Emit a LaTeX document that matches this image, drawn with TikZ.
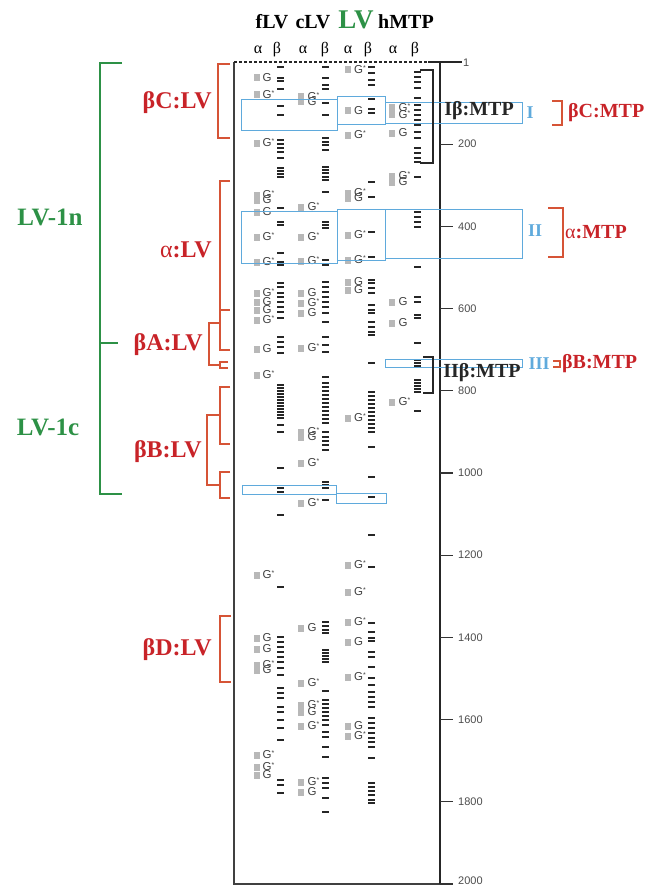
\documentclass[tikz,border=0pt]{standalone}
\usepackage{fontspec}
\setmainfont{Liberation Serif}
\setsansfont{Liberation Sans}
\definecolor{labred}{RGB}{200,35,40}
\definecolor{brkred}{RGB}{214,84,54}
\definecolor{grn}{RGB}{45,145,70}
\definecolor{boxblue}{RGB}{95,170,220}
\newcommand\Gst{\raisebox{3pt}{\fontsize{7}{7}\selectfont *}}
\begin{document}
\begin{tikzpicture}[x=1pt,y=-1pt,
  hdr/.style={font=\bfseries\fontsize{20}{20}\selectfont, inner sep=0pt},
  sub/.style={font=\fontsize{16}{16}\selectfont, inner sep=0pt},
  redlab/.style={font=\bfseries\fontsize{24}{24}\selectfont, text=labred, inner sep=0pt},
  mtplab/.style={font=\bfseries\fontsize{20}{20}\selectfont, text=labred, inner sep=0pt, anchor=west},
  grnlab/.style={font=\bfseries\fontsize{25}{25}\selectfont, text=grn, inner sep=0pt},
  bluelab/.style={font=\bfseries\fontsize{18}{18}\selectfont, text=boxblue, inner sep=0pt},
  blklab/.style={font=\bfseries\fontsize{20}{20}\selectfont, text=black!85, inner sep=0pt},
  ticklab/.style={font=\sffamily\fontsize{11}{11}\selectfont, text=black!70, inner sep=0pt, anchor=west},
  gl/.style={font=\sffamily\fontsize{11.5}{11.5}\selectfont, text=black!75, inner sep=0pt, anchor=west},
  blk/.style={fill=black!85},
  gry/.style={fill=black!28},
  bx/.style={draw=boxblue, line width=1pt},
  rbr/.style={draw=brkred, line width=1.1pt},
  gbr/.style={draw=grn, line width=2.6pt},
  kbr/.style={draw=black!85, line width=1.3pt}]
\useasboundingbox (0,0) rectangle (652,888);

% ---- column headings
\node[hdr] (hf) at (272,22) {fLV};
\node[hdr] (hc) at (313,22) {cLV};
\node[hdr, text=grn, font=\bfseries\fontsize{27}{27}\selectfont] (hl) at (356,20) {LV};
\node[hdr] (hh) at (406,22) {hMTP};
\foreach \x/\t [count=\i] in {258/α,277/β,303/α,325/β,348/α,368/β,393/α,415/β}
  \node[sub] (ab\i) at (\x,50) {\t};

% ---- frame and size axis
\draw[black!75, line width=1.1pt] (234,62) -- (234,884) -- (440,884);
\draw[black!85, line width=1.4pt, dash pattern=on 3pt off 2pt] (234,62) -- (428,62);
\draw[black!85, line width=1.4pt] (428,62) -- (462,62);
\draw[black!85, line width=1.4pt] (440,62) -- (440,884);
\node[ticklab] (t1) at (463,63) {1};
\foreach \v in {200,400,...,1800}{
  \pgfmathsetmacro\yy{62+0.411*\v}
  \draw[black!80, line width=1.1pt] (440,\yy) -- (453,\yy);
  \node[ticklab] (t\v) at (458,\yy) {\v};
}
\draw[black!80, line width=1.1pt] (440,884) -- (453,884);
\node[ticklab] (t2000) at (458,881) {2000};

% ---- fLV lanes
\foreach \y in {67,78,81,89,106,115,140,144,148,152,158,168,171,174,177,208,222,225,253,262,265,283,287,293,297,302,307,312,318,337,342,347,353,385,388,391,394,397,400,403,406,409,412,415,418,425,432,468,488,492,515,587,637,642,647,652,657,662,668,675,688,693,698,707,712,720,728,740,780,785,793}
  \fill[blk] (280,\y) ++(-3.5,-1.3) rectangle ++(7,2.6);
\foreach \y/\s [count=\i] in {78/0,95/1,143/1,195/1,200/0,212/0,237/1,262/1,293/1,302/0,310/0,320/1,349/0,375/1,575/1,638/0,649/0,665/1,670/0,755/1,767/1,775/0}{
  \fill[gry] (256.5,\y) ++(-3,-3.5) rectangle ++(6,7);
  \node[gl] (gf\i) at (262.5,\y) {G\ifnum\s=1\Gst\fi};
}

% ---- cLV lanes
\foreach \y in {67,78,85,89,103,115,138,142,145,150,167,170,173,177,180,192,222,225,228,260,265,282,287,292,297,302,307,313,322,337,345,352,377,383,387,391,395,399,403,407,411,415,419,423,432,437,441,445,450,482,485,488,500,622,626,630,633,650,653,656,659,662,691,700,704,708,712,716,720,725,732,737,747,757,778,783,788,798,812}
  \fill[blk] (325,\y) ++(-3.5,-1.3) rectangle ++(7,2.6);
\foreach \y/\s [count=\i] in {97/1,102/0,207/1,237/1,261/1,293/0,303/1,313/0,348/1,432/1,437/0,463/1,503/1,628/0,683/1,705/1,712/0,726/1,782/1,792/0}{
  \fill[gry] (301,\y) ++(-3,-3.5) rectangle ++(6,7);
  \node[gl] (gc\i) at (307.5,\y) {G\ifnum\s=1\Gst\fi};
}

% ---- LV lanes
\foreach \y in {67,73,80,85,99,109,113,182,197,232,257,280,283,288,293,305,310,313,322,327,332,335,363,392,396,400,404,408,412,416,420,424,428,432,447,477,497,535,567,623,632,638,641,652,657,667,678,685,692,697,702,707,718,723,728,733,738,742,747,758,783,787,791,795,800,803}
  \fill[blk] (371,\y) ++(-3.5,-1.3) rectangle ++(7,2.6);
\foreach \y/\s [count=\i] in {70/1,111/0,135/1,193/1,198/0,235/1,260/1,282/0,290/0,418/1,565/1,592/1,622/1,642/0,677/1,726/0,736/1}{
  \fill[gry] (347.5,\y) ++(-3,-3.5) rectangle ++(6,7);
  \node[gl] (gl\i) at (354,\y) {G\ifnum\s=1\Gst\fi};
}

% ---- hMTP lanes
\foreach \y in {72,77,82,88,98,105,110,115,120,125,132,138,148,153,158,162,177,212,217,222,227,267,297,302,315,318,343,360,363,366,380,383,386,389,392,411}
  \fill[blk] (417,\y) ++(-3.5,-1.3) rectangle ++(7,2.6);
\foreach \y/\s [count=\i] in {108/1,115/1,133/0,176/1,182/0,302/0,323/0,402/1}{
  \fill[gry] (392,\y) ++(-3,-3.5) rectangle ++(6,7);
  \node[gl] (gh\i) at (398.5,\y) {G\ifnum\s=1\Gst\fi};
}

% ---- highlighted regions
\draw[bx] (241,100) rectangle (337,130);
\draw[bx] (337,97) rectangle (385,125);
\draw[bx] (385,103) rectangle (522,124);
\draw[bx] (241,211) rectangle (337,263);
\draw[bx] (337,209) rectangle (385,260);
\draw[bx] (385,209) rectangle (522,258);
\draw[bx] (385,359) rectangle (522,367);
\draw[bx] (242,485) rectangle (336,494);
\draw[bx] (336,493) rectangle (386,503);
\node[bluelab] (rI) at (530,113) {I};
\node[bluelab] (rII) at (535,231) {II};
\node[bluelab] (rIII) at (539,364) {III};

% ---- hMTP beta brackets
\draw[kbr] (420,70) -- (433,70) -- (433,163) -- (420,163);
\draw[kbr] (423,357) -- (433,357) -- (433,393) -- (423,393);
\node[blklab] (ib) at (479,111) {Iβ:MTP};
\node[blklab] (iib) at (482,373) {IIβ:MTP};

% ---- MTP domain brackets
\draw[rbr] (552,101) -- (562,101) -- (562,125) -- (552,125);
\node[mtplab] (bcm) at (568,113) {βC:MTP};
\draw[rbr] (548,208) -- (563,208) -- (563,257) -- (548,257);
\node[mtplab] (am) at (565,232) {{\mdseries α}:MTP};
\draw[rbr] (553,361) -- (560,361) -- (560,367) -- (553,367);
\node[mtplab] (bbm) at (562,364) {βB:MTP};

% ---- LV domain brackets
\draw[rbr] (230,64) -- (218,64) -- (218,138) -- (230,138);
\node[redlab, anchor=east] (bcl) at (212,103) {βC:LV};
\draw[rbr] (230,181) -- (220,181) -- (220,350) -- (230,350);
\draw[draw=brkred, line width=2pt] (220,310) -- (230,310);
\node[redlab, anchor=east] (al) at (212,250) {{\mdseries α}:LV};
\draw[rbr] (220,323) -- (209,323) -- (209,365) -- (220,365);
\draw[rbr] (228,362) -- (220,362) -- (220,368) -- (228,368);
\node[redlab, anchor=east] (bal) at (203,345) {βA:LV};
\draw[rbr] (230,387) -- (220,387) -- (220,444) -- (230,444);
\draw[rbr] (230,472) -- (220,472) -- (220,498) -- (230,498);
\draw[rbr] (220,415) -- (207,415) -- (207,485) -- (220,485);
\node[redlab, anchor=east] (bbl) at (202,452) {βB:LV};
\draw[rbr] (231,616) -- (220,616) -- (220,682) -- (231,682);
\node[redlab, anchor=east] (bdl) at (212,650) {βD:LV};

% ---- LV-1 fragments
\draw[gbr] (122,63) -- (100,63) -- (100,494) -- (122,494);
\draw[gbr] (100,343) -- (118,343);
\node[grnlab] (n1) at (50,217) {LV-1n};
\node[grnlab] (c1) at (48,427) {LV-1c};
\end{tikzpicture}
\end{document}
